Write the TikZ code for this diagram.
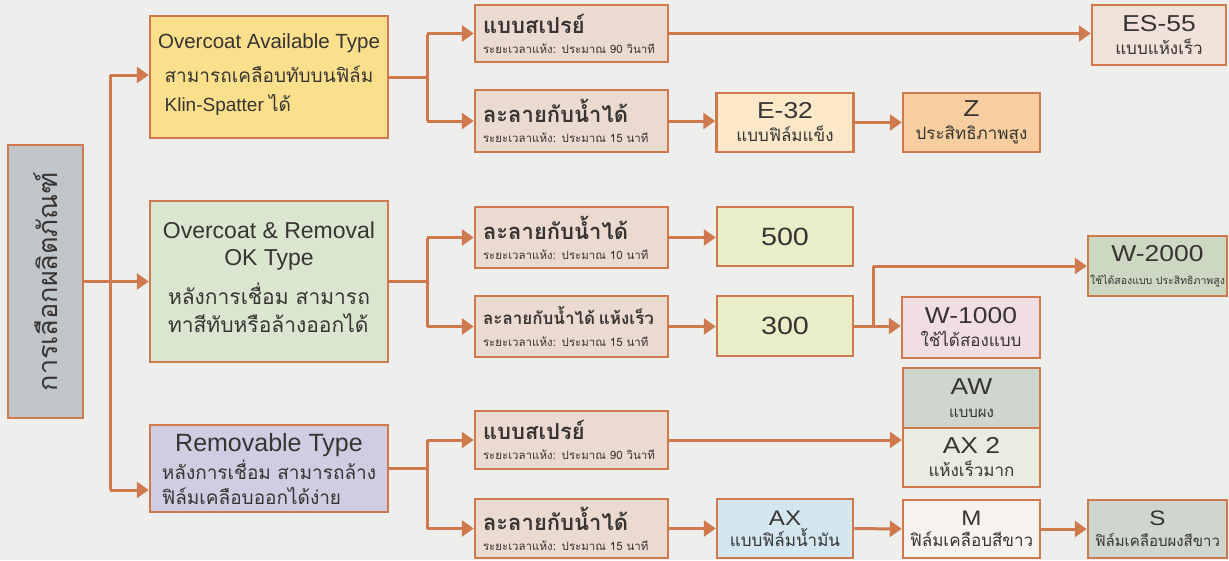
\documentclass[tikz,border=0pt]{standalone}
\usepackage{fontspec}
\usepackage{graphicx}
\setmainfont{Liberation Sans}
\newfontfamily\codefont[FakeStretch=1.15]{Liberation Sans}
\newfontfamily\thaifont[Script=Thai]{Loma}
\usetikzlibrary{arrows.meta}

\definecolor{lineor}{RGB}{206,122,78}
\definecolor{pagebg}{RGB}{238,238,236}
\definecolor{txtgrey}{RGB}{55,52,50}
\definecolor{selgrey}{RGB}{192,197,201}
\definecolor{availyel}{RGB}{250,224,140}
\definecolor{okgreen}{RGB}{218,230,208}
\definecolor{remlav}{RGB}{208,204,226}
\definecolor{stepbeige}{RGB}{234,218,208}
\definecolor{esbeige}{RGB}{240,226,216}
\definecolor{epeach}{RGB}{250,232,200}
\definecolor{zorange}{RGB}{246,206,160}
\definecolor{limegr}{RGB}{234,238,200}
\definecolor{wgreen}{RGB}{204,216,194}
\definecolor{wpink}{RGB}{240,222,228}
\definecolor{awgreen}{RGB}{206,214,206}
\definecolor{axlight}{RGB}{234,236,226}
\definecolor{axblue}{RGB}{212,230,240}
\definecolor{mwhite}{RGB}{246,242,238}

\begin{document}
\begin{tikzpicture}[x=1pt,y=-1pt,
	box/.style={draw=lineor, line width=2.5pt, rectangle, inner sep=0pt, text=txtgrey},
	typebox/.style={box, minimum width=238pt, align=center},
	stepbox/.style={box, fill=stepbeige, minimum width=193pt, minimum height=59pt,
		inner xsep=8pt, text width=177pt, align=left, font=\thaifont\fontsize{11.5}{14}\selectfont},
	prodbox/.style={box, minimum width=137pt, minimum height=59pt, align=center,
		font=\thaifont\fontsize{17}{21}\selectfont},
	link/.style={draw=lineor, line width=3pt},
	linkarr/.style={link, -{Triangle[length=12pt,width=16pt]}},
]
	\fill[pagebg] (0,0) rectangle (1229,560);
	\useasboundingbox (0,0) rectangle (1229,560);

	% selection and types
	\node[box, fill=selgrey, minimum width=75pt, minimum height=273pt] (sel) at (45.5,281.5)
		{\rotatebox{90}{\thaifont\fontsize{27}{30}\selectfont การเลือกผลิตภัณฑ์}};
	\node[typebox, fill=availyel, minimum height=122pt] (avail) at (269,77)
		{\fontsize{20.5}{24}\selectfont Overcoat Available Type\\[9pt]
		 \fontsize{19}{29}\selectfont\begin{tabular}{@{}l@{}}{\thaifont สามารถเคลือบทับบนฟิล์ม}\\ Klin-Spatter {\thaifont ได้}\end{tabular}};
	\node[typebox, fill=okgreen, minimum height=161pt] (okt) at (269,281.5)
		{\fontsize{23}{27}\selectfont Overcoat \& Removal\\[10pt]
		 \fontsize{23}{27}\selectfont OK Type\\[12pt]
		 \fontsize{21}{28}\selectfont\begin{tabular}{@{}l@{}}{\thaifont หลังการเชื่อม สามารถ}\\ {\thaifont ทาสีทับหรือล้างออกได้}\end{tabular}};
	\node[typebox, fill=remlav, minimum height=87pt] (remov) at (269,468.5)
		{\fontsize{25}{27}\selectfont\rule{0pt}{27pt}Removable Type\\[2pt]
		 \fontsize{19}{25}\selectfont\begin{tabular}{@{}l@{}}{\thaifont หลังการเชื่อม สามารถล้าง}\\ {\thaifont ฟิล์มเคลือบออกได้ง่าย}\end{tabular}};

	% drying steps
	\node[stepbox, minimum height=57pt] (spray1) at (571.5,33.5)
		{{\bfseries\fontsize{22}{26}\selectfont แบบสเปรย์}\\[6pt] ระยะเวลาแห้ง: ประมาณ 90 วินาที};
	\node[stepbox, minimum height=62pt] (water1) at (571.5,121)
		{{\bfseries\fontsize{22}{26}\selectfont ละลายกับน้ำได้}\\[6pt] ระยะเวลาแห้ง: ประมาณ 15 นาที};
	\node[stepbox, minimum height=61pt] (water2) at (571.5,237.5)
		{{\bfseries\fontsize{22}{26}\selectfont ละลายกับน้ำได้}\\[6pt] ระยะเวลาแห้ง: ประมาณ 10 นาที};
	\node[stepbox, minimum height=61pt] (water3) at (571.5,326.5)
		{{\bfseries\fontsize{17}{26}\selectfont ละลายกับน้ำได้ แห้งเร็ว}\\[8pt] ระยะเวลาแห้ง: ประมาณ 15 นาที};
	\node[stepbox, minimum height=58pt] (spray2) at (571.5,440)
		{{\bfseries\fontsize{22}{26}\selectfont แบบสเปรย์}\\[6pt] ระยะเวลาแห้ง: ประมาณ 90 วินาที};
	\node[stepbox, minimum height=59pt] (water4) at (571.5,528.5)
		{{\bfseries\fontsize{22}{26}\selectfont ละลายกับน้ำได้}\\[6pt] ระยะเวลาแห้ง: ประมาณ 15 นาที};

	% products
	\node[prodbox, fill=esbeige, minimum width=134pt, minimum height=60pt] (es55) at (1159,35)
		{{\codefont\fontsize{23}{25}\selectfont ES-55}\\[2pt] แบบแห้งเร็ว};
	\node[prodbox, fill=epeach] (e32) at (785,122.5)
		{{\codefont\fontsize{23}{25}\selectfont E-32}\\[2pt] แบบฟิล์มแข็ง};
	\node[prodbox, fill=zorange] (z) at (971.5,122.5)
		{{\codefont\fontsize{23}{25}\selectfont Z}\\[2pt] ประสิทธิภาพสูง};
	\node[prodbox, fill=limegr, minimum width=136pt] (n500) at (785,236.5)
		{\codefont\fontsize{25}{27}\selectfont 500};
	\node[prodbox, fill=limegr, minimum width=136pt, minimum height=60pt] (n300) at (785,326)
		{\codefont\fontsize{25}{27}\selectfont 300};
	\node[prodbox, fill=wgreen, minimum width=139pt, minimum height=60pt] (w2000) at (1157.5,266)
		{{\codefont\fontsize{23}{25}\selectfont W-2000}\\[2pt] {\fontsize{10.5}{13}\selectfont ใช้ได้สองแบบ ประสิทธิภาพสูง}};
	\node[prodbox, fill=wpink, minimum width=138pt, minimum height=61pt] (w1000) at (971,327.5)
		{{\codefont\fontsize{23}{25}\selectfont W-1000}\\[2pt] ใช้ได้สองแบบ};
	\node[prodbox, fill=awgreen, minimum height=60pt] (aw) at (971.5,398)
		{{\codefont\fontsize{23}{25}\selectfont AW}\\[2pt] {\fontsize{15}{19}\selectfont แบบผง}};
	\node[prodbox, fill=axlight] (ax2) at (971.5,457.5)
		{{\codefont\fontsize{23}{25}\selectfont AX 2}\\[2pt] แห้งเร็วมาก};
	\node[prodbox, fill=axblue, minimum width=136pt] (ax) at (785,528.5)
		{{\codefont\fontsize{21}{23}\selectfont AX}\\[0pt] แบบฟิล์มน้ำมัน};
	\node[prodbox, fill=mwhite, minimum height=58pt] (m) at (971.5,529)
		{{\codefont\fontsize{21}{23}\selectfont M}\\[0pt] ฟิล์มเคลือบสีขาว};
	\node[prodbox, fill=awgreen, minimum width=139pt, minimum height=58pt] (s) at (1157.5,529)
		{{\codefont\fontsize{21}{23}\selectfont S}\\[0pt] {\fontsize{15}{18}\selectfont ฟิล์มเคลือบผงสีขาว}};

	% trunk from selection
	\coordinate (t1) at (110,75);
	\coordinate (t3) at (110,490);
	\draw[link] (t1) -- (t3);
	\draw[link] (sel.east) -- (sel.east -| t1);
	\draw[linkarr] (t1) -- (t1 -| avail.west);
	\draw[linkarr] (sel.east -| t1) -- (okt.west);
	\draw[linkarr] (t3) -- (t3 -| remov.west);

	% branches to drying steps
	\coordinate (b1) at (427,0);
	\draw[link] (avail.east) -- (avail.east -| b1);
	\draw[link] (b1 |- spray1) -- (b1 |- water1);
	\draw[linkarr] (b1 |- spray1) -- (spray1.west);
	\draw[linkarr] (b1 |- water1) -- (water1.west);

	\draw[link] (okt.east) -- (okt.east -| b1);
	\draw[link] (b1 |- water2) -- (b1 |- water3);
	\draw[linkarr] (b1 |- water2) -- (water2.west);
	\draw[linkarr] (b1 |- water3) -- (water3.west);

	\draw[link] (remov.east) -- (remov.east -| b1);
	\draw[link] (b1 |- spray2) -- (b1 |- water4);
	\draw[linkarr] (b1 |- spray2) -- (spray2.west);
	\draw[linkarr] (b1 |- water4) -- (water4.west);

	% steps to products
	\draw[linkarr] (spray1.east) -- (spray1.east -| es55.west);
	\draw[linkarr] (water1.east) -- (water1.east -| e32.west);
	\draw[linkarr] (e32) -- (z);
	\draw[linkarr] (water2.east) -- (water2.east -| n500.west);
	\draw[linkarr] (water3.east) -- (water3.east -| n300.west);

	\coordinate (b4) at (873,0);
	\draw[link] (n300.east) -- (n300.east -| b4);
	\draw[link] (b4 |- w2000) -- (n300.east -| b4);
	\draw[linkarr] (b4 |- w2000) -- (w2000.west);
	\draw[linkarr] (n300.east -| b4) -- (n300.east -| w1000.west);

	\draw[linkarr] (spray2.east) -- (spray2.east -| ax2.west);
	\draw[linkarr] (water4.east) -- (water4.east -| ax.west);
	\draw[linkarr] (ax) -- (m);
	\draw[linkarr] (m) -- (s);
\end{tikzpicture}
\end{document}
